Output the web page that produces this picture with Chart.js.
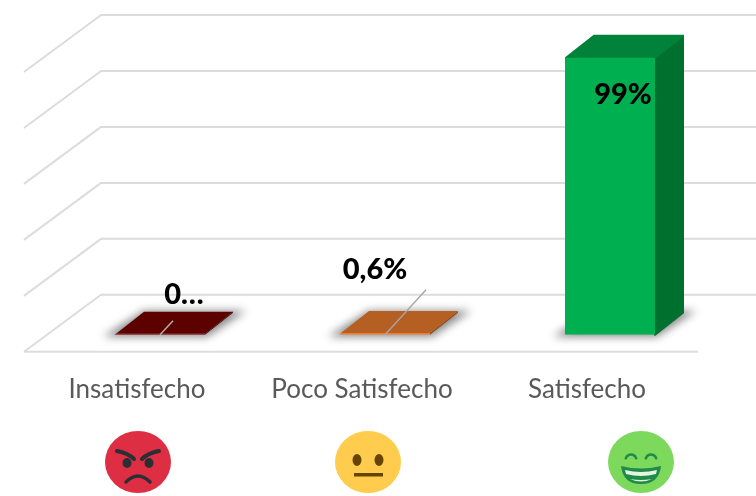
<!DOCTYPE html>
<html>
<head>
<meta charset="utf-8">
<script src="https://cdn.jsdelivr.net/npm/chart.js@4/dist/chart.umd.js"></script>
<style>
  html, body { margin: 0; padding: 0; background: #fff; overflow: hidden; }
  canvas { display: block; }
</style>
</head>
<body>
<canvas id="chart" width="756" height="496"></canvas>
<script>
const categories = ["Insatisfecho", "Poco Satisfecho", "Satisfecho"];
const values = [0.4, 0.6, 99];
const valueLabels = ["0…", "0,6%", "99%"];
const gridValues = [0, 20, 40, 60, 80, 100];

const frontColors = ["#7a0000", "#ed7d31", "#00b050"];
const topColors = ["#5c0000", "#b55f22", "#00823a"];
const sideColors = ["#3f0000", "#8f4a18", "#00702f"];

// 3D offsets
const DEPTH = { dx: 29, dy: -23 };
const WALL = { back: -40, front: 17, dx: 77, left: 24, right: 756, floorRight: 698 };

// label anchor relative to the bar's centre, leader line end likewise
const labelOffsets = [{ x: 24, y: -40 }, { x: -10, y: -65 }, { x: 13, y: 37 }];
const leaderEnds = [{ x: 13, y: -14 }, { x: 41, y: -45 }, null];
const emojiCenters = [{ x: 138, y: 462 }, { x: 368, y: 462 }, { x: 641, y: 462 }];

function drawGrid(ctx, chart) {
  const y = chart.scales.y;
  ctx.save();
  ctx.strokeStyle = "#dcdcdc";
  ctx.lineWidth = 2;
  ctx.lineJoin = "round";
  gridValues.forEach((v) => {
    const py = y.getPixelForValue(v);
    ctx.beginPath();
    ctx.moveTo(WALL.left, py + WALL.front);
    ctx.lineTo(WALL.left + WALL.dx, py + WALL.back);
    ctx.lineTo(WALL.right, py + WALL.back);
    ctx.stroke();
  });
  // suelo
  const base = y.getPixelForValue(0) + WALL.front;
  ctx.beginPath();
  ctx.moveTo(WALL.left, base);
  ctx.lineTo(WALL.floorRight, base);
  ctx.stroke();
  ctx.restore();
}

function drawShadows(ctx, chart) {
  const meta = chart.getDatasetMeta(0);
  ctx.save();
  ctx.filter = "blur(4px)";
  ctx.fillStyle = "#8a8a8a";
  meta.data.forEach((bar) => {
    const l = bar.x - bar.width / 2;
    const r = bar.x + bar.width / 2;
    const b = bar.base;
    ctx.beginPath();
    ctx.moveTo(l - 12, b + 2);
    ctx.lineTo(r + 2, b + 2);
    ctx.lineTo(r + DEPTH.dx + 12, b + DEPTH.dy - 1);
    ctx.lineTo(l + DEPTH.dx, b + DEPTH.dy - 1);
    ctx.closePath();
    ctx.fill();
  });
  ctx.restore();
}

function drawBoxes(ctx, chart) {
  const meta = chart.getDatasetMeta(0);
  meta.data.forEach((bar, i) => {
    const l = bar.x - bar.width / 2;
    const r = bar.x + bar.width / 2;
    const t = bar.y;
    const b = bar.base;
    ctx.lineJoin = "round";
    ctx.lineWidth = 2;
    ctx.fillStyle = sideColors[i];
    ctx.strokeStyle = sideColors[i];
    ctx.beginPath();
    ctx.moveTo(r, t);
    ctx.lineTo(r + DEPTH.dx - 1, t + DEPTH.dy + 1);
    ctx.lineTo(r + DEPTH.dx - 1, b + DEPTH.dy + 1);
    ctx.lineTo(r, b);
    ctx.closePath();
    ctx.fill();
    if (i === 2) ctx.stroke();
    ctx.fillStyle = topColors[i];
    ctx.strokeStyle = topColors[i];
    ctx.beginPath();
    ctx.moveTo(l + 1, t);
    ctx.lineTo(l + DEPTH.dx, t + DEPTH.dy + 1);
    ctx.lineTo(r + DEPTH.dx - 1, t + DEPTH.dy + 1);
    ctx.lineTo(r, t);
    ctx.closePath();
    ctx.fill();
    if (i === 2) ctx.stroke();
  });
}

function drawLabels(ctx, chart) {
  const meta = chart.getDatasetMeta(0);
  ctx.save();
  meta.data.forEach((bar, i) => {
    const end = leaderEnds[i];
    if (end) {
      ctx.strokeStyle = i === 0 ? "#b8b0b0" : "#a6a6a6";
      ctx.lineWidth = 1.4;
      ctx.beginPath();
      ctx.moveTo(bar.x, bar.base);
      ctx.lineTo(bar.x + end.x, bar.base + end.y);
      ctx.stroke();
    }
    const off = labelOffsets[i];
    const py = i === 2 ? bar.y + off.y : bar.base + off.y;
    ctx.fillStyle = "#000";
    ctx.font = "900 29px Lato";
    ctx.textAlign = "center";
    ctx.textBaseline = "middle";
    ctx.fillText(valueLabels[i], bar.x + off.x, py);
  });
  ctx.restore();
}

function drawEmojiAngry(ctx, x, y) {
  ctx.fillStyle = "#dd2e44";
  ctx.beginPath();
  ctx.ellipse(x, y, 33, 31, 0, 0, Math.PI * 2);
  ctx.fill();
  ctx.strokeStyle = "#292f33";
  ctx.fillStyle = "#292f33";
  ctx.lineWidth = 4;
  ctx.lineCap = "round";
  ctx.beginPath();
  ctx.moveTo(x - 21, y - 11);
  ctx.quadraticCurveTo(x - 10, y - 9, x - 4, y - 3);
  ctx.moveTo(x + 21, y - 11);
  ctx.quadraticCurveTo(x + 10, y - 9, x + 4, y - 3);
  ctx.stroke();
  ctx.beginPath();
  ctx.ellipse(x - 11, y + 1, 4.5, 5, 0, 0, Math.PI * 2);
  ctx.ellipse(x + 11, y + 1, 4.5, 5, 0, 0, Math.PI * 2);
  ctx.fill();
  ctx.lineWidth = 3.5;
  ctx.beginPath();
  ctx.moveTo(x - 12, y + 20);
  ctx.quadraticCurveTo(x, y + 8, x + 12, y + 20);
  ctx.stroke();
}

function drawEmojiNeutral(ctx, x, y) {
  ctx.fillStyle = "#ffcc4d";
  ctx.beginPath();
  ctx.ellipse(x, y, 33, 31, 0, 0, Math.PI * 2);
  ctx.fill();
  ctx.fillStyle = "#664500";
  ctx.beginPath();
  ctx.ellipse(x - 11, y - 2, 4.5, 6, 0, 0, Math.PI * 2);
  ctx.ellipse(x + 11, y - 2, 4.5, 6, 0, 0, Math.PI * 2);
  ctx.fill();
  ctx.fillRect(x - 14, y + 11, 29, 3.5);
}

function drawEmojiHappy(ctx, x, y) {
  ctx.fillStyle = "#7dd95c";
  ctx.beginPath();
  ctx.ellipse(x, y, 33, 31, 0, 0, Math.PI * 2);
  ctx.fill();
  ctx.strokeStyle = "#1f8a4a";
  ctx.lineWidth = 2.5;
  ctx.lineCap = "round";
  ctx.beginPath();
  ctx.arc(x - 10, y - 2, 5.5, Math.PI * 1.1, Math.PI * 1.9);
  ctx.moveTo(x + 15, y - 4);
  ctx.arc(x + 10, y - 2, 5.5, Math.PI * 1.9, Math.PI * 1.1, true);
  ctx.stroke();
  ctx.fillStyle = "#1f8a4a";
  ctx.beginPath();
  ctx.moveTo(x - 20, y + 4);
  ctx.quadraticCurveTo(x, y + 9, x + 20, y + 4);
  ctx.quadraticCurveTo(x + 18, y + 22, x, y + 22);
  ctx.quadraticCurveTo(x - 18, y + 22, x - 20, y + 4);
  ctx.fill();
  ctx.fillStyle = "#e4f5de";
  ctx.beginPath();
  ctx.moveTo(x - 16, y + 8);
  ctx.quadraticCurveTo(x, y + 12, x + 16, y + 8);
  ctx.lineTo(x + 15, y + 12);
  ctx.quadraticCurveTo(x, y + 16, x - 15, y + 12);
  ctx.closePath();
  ctx.fill();
  ctx.beginPath();
  ctx.moveTo(x - 11, y + 17);
  ctx.quadraticCurveTo(x, y + 19, x + 11, y + 17);
  ctx.quadraticCurveTo(x, y + 22, x - 11, y + 17);
  ctx.fill();
}

const emojiDrawers = [drawEmojiAngry, drawEmojiNeutral, drawEmojiHappy];

const scene3d = {
  id: "scene3d",
  beforeDatasetsDraw(chart) {
    drawGrid(chart.ctx, chart);
    drawShadows(chart.ctx, chart);
    drawBoxes(chart.ctx, chart);
  },
  afterDatasetsDraw(chart) {
    const ctx = chart.ctx;
    drawLabels(ctx, chart);
    ctx.save();
    ctx.filter = "blur(0.6px)";
    emojiCenters.forEach((c, i) => emojiDrawers[i](ctx, c.x, c.y));
    ctx.restore();
  },
};

new Chart(document.getElementById("chart").getContext("2d"), {
  type: "bar",
  data: {
    labels: categories,
    datasets: [
      {
        data: values,
        backgroundColor: frontColors,
        borderWidth: 0,
        borderRadius: 1,
        barPercentage: 0.4,
        categoryPercentage: 1,
      },
    ],
  },
  options: {
    responsive: false,
    animation: false,
    layout: { padding: { left: 47.5, right: 33.5, top: 55, bottom: 60 } },
    plugins: { legend: { display: false }, tooltip: { enabled: false } },
    scales: {
      x: {
        grid: { display: false },
        border: { display: false },
        ticks: {
          color: "#595959",
          font: { family: "Lato", size: 26 },
          padding: 31,
          labelOffset: -23,
          maxRotation: 0,
          autoSkip: false,
        },
      },
      y: {
        display: false,
        min: 0,
        max: 100,
        ticks: { stepSize: 20 },
      },
    },
  },
  plugins: [scene3d],
});
</script>
</body>
</html>
